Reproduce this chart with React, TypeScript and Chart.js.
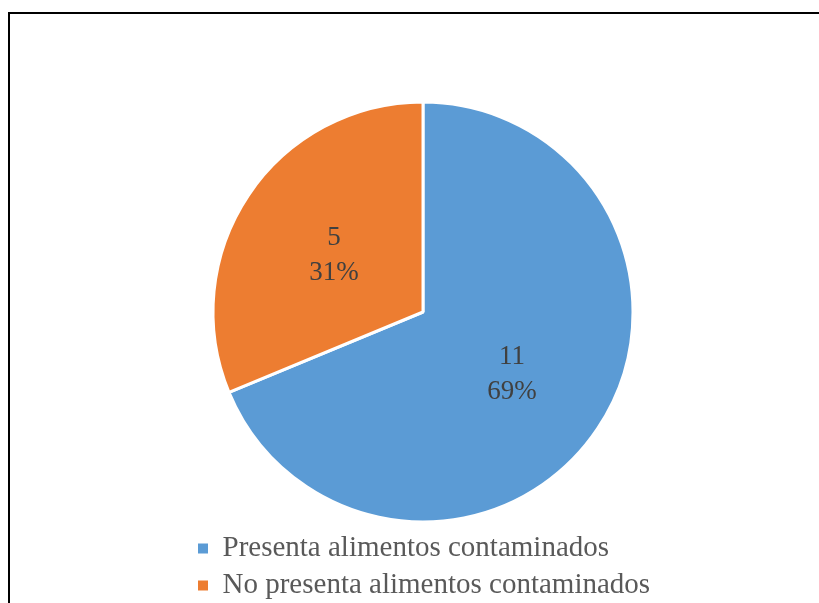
import React, { useEffect, useRef } from "react";
import { Chart, registerables } from "chart.js";

Chart.register(...registerables);

const categories = ["Presenta alimentos contaminados", "No presenta alimentos contaminados"];
const values = [11, 5];
const colors = ["#5B9BD5", "#ED7D31"];

const SERIF = "'Liberation Serif', 'Times New Roman', serif";

const labelPlugin = {
  id: "sliceLabels",
  afterDatasetsDraw(chart: any) {
    const ctx = chart.ctx;
    const meta = chart.getDatasetMeta(0);
    const total = values.reduce((a, b) => a + b, 0);
    ctx.save();
    ctx.font = `27px ${SERIF}`;
    ctx.fillStyle = "#404040";
    ctx.textAlign = "center";
    ctx.textBaseline = "middle";
    meta.data.forEach((arc: any, i: number) => {
      const p = arc.getProps(["x", "y", "startAngle", "endAngle", "outerRadius"], true);
      const mid = (p.startAngle + p.endAngle) / 2;
      const r = p.outerRadius * 0.51;
      const cx = p.x + Math.cos(mid) * r;
      const cy = p.y + Math.sin(mid) * r + 3;
      const pct = Math.round((values[i] / total) * 100) + "%";
      ctx.fillText(String(values[i]), cx, cy - 17.5);
      ctx.fillText(pct, cx, cy + 17.5);
    });
    ctx.restore();
  },
};

export default function App() {
  const ref = useRef<HTMLCanvasElement>(null);
  useEffect(() => {
    if (!ref.current) return;
    const chart = new Chart(ref.current, {
      type: "pie",
      data: {
        labels: categories,
        datasets: [
          {
            data: values,
            backgroundColor: colors,
            borderColor: "#FFFFFF",
            borderWidth: 3,
          },
        ],
      },
      options: {
        responsive: false,
        animation: false,
        radius: 210,
        layout: { padding: { left: 190, right: 163, top: 98, bottom: 30 } },
        plugins: {
          tooltip: { enabled: false },
          legend: {
            position: "bottom",
            align: "start",
            labels: {
              boxWidth: 10,
              boxHeight: 10,
              padding: 8,
              color: "#595959",
              font: { family: SERIF, size: 29 },
              generateLabels: (c: any) => {
                const base = (Chart as any).overrides.pie.plugins.legend.labels.generateLabels(c);
                return base.map((l: any) => ({ ...l, lineWidth: 0, strokeStyle: "rgba(0,0,0,0)" }));
              },
            },
          },
        },
      } as any,
      plugins: [labelPlugin],
    });
    return () => chart.destroy();
  }, []);
  return (
    <div
      style={{
        position: "fixed",
        left: 0,
        top: 0,
        width: 819,
        height: 603,
        overflow: "hidden",
        background: "#FFFFFF",
      }}
    >
      <canvas
        ref={ref}
        width={819}
        height={640}
        style={{ position: "absolute", left: 0, top: 0, width: 819, height: 640 }}
      />
      <div
        style={{
          position: "absolute",
          left: 8,
          top: 12,
          width: 900,
          height: 700,
          borderLeft: "2px solid #000",
          borderTop: "2px solid #000",
        }}
      />
    </div>
  );
}
